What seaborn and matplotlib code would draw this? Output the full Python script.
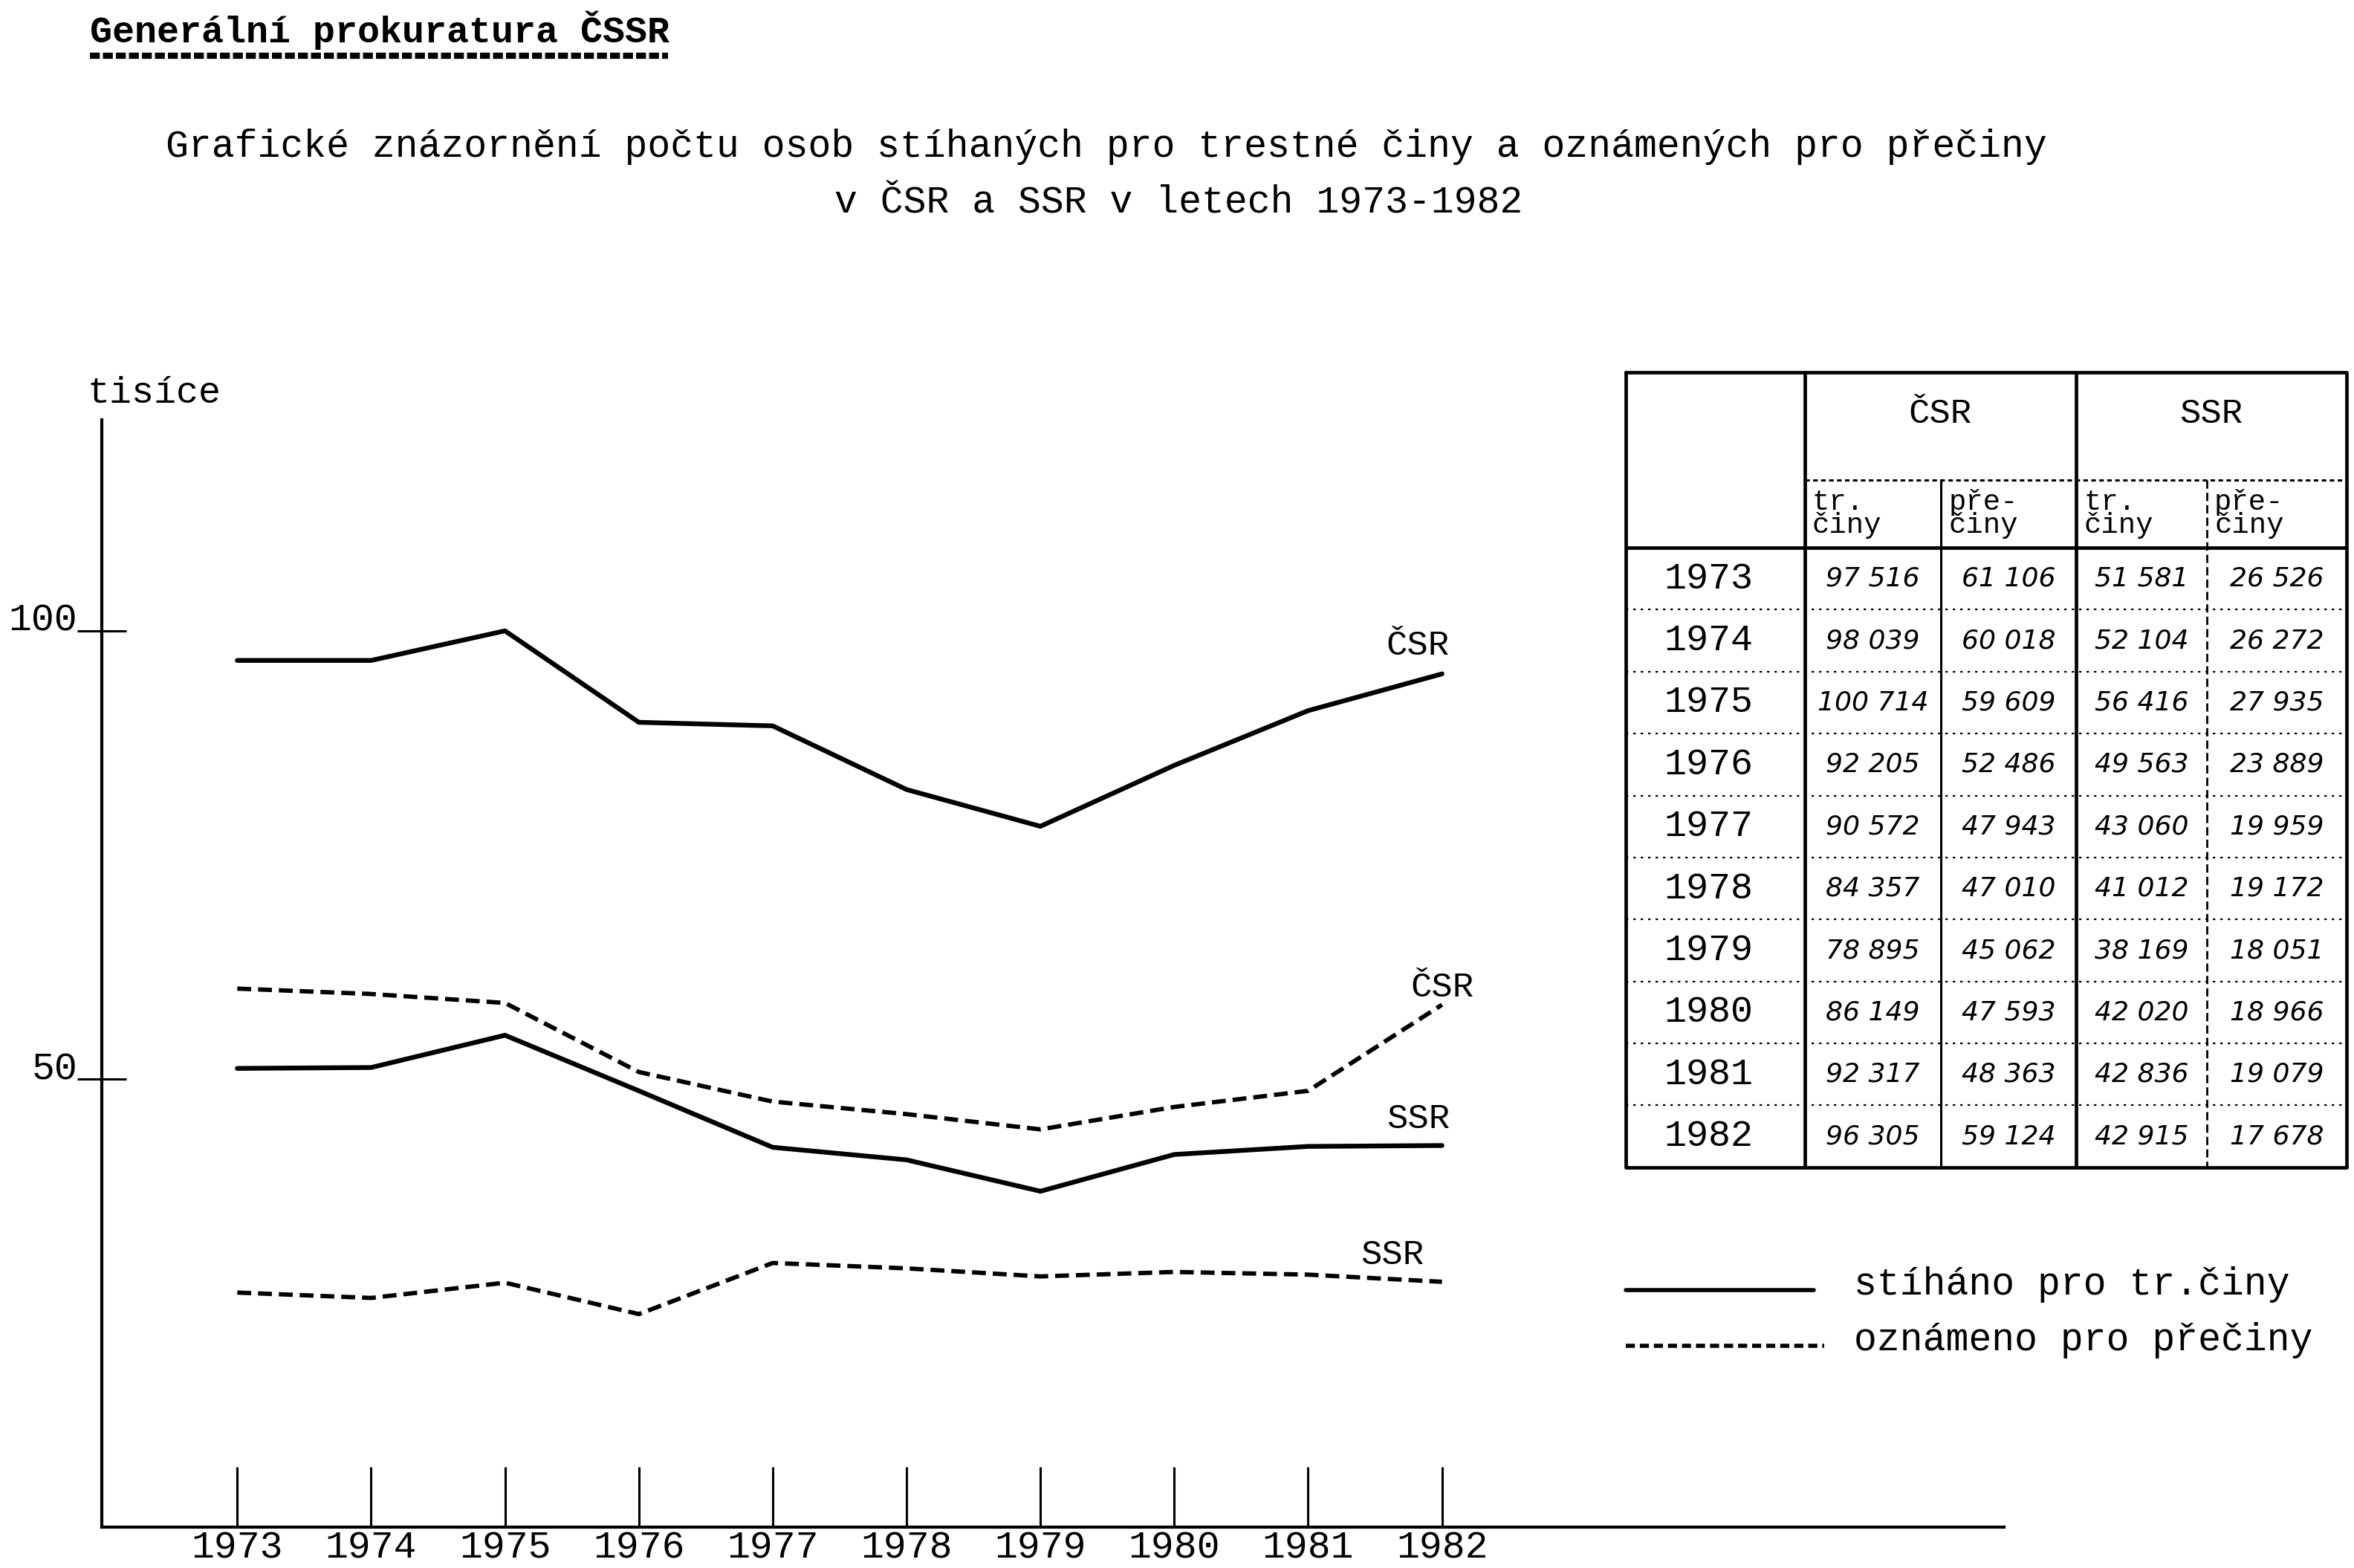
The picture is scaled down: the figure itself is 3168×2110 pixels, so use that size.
import pandas as pd
import matplotlib.pyplot as plt
import seaborn as sns
from matplotlib.lines import Line2D

# data

years = [1973, 1974, 1975, 1976, 1977, 1978, 1979, 1980, 1981, 1982]

# values as drawn in the graph (tisíce)
csr_tr_plot = [96.7, 96.7, 100.0, 89.8, 89.4, 82.3, 78.2, 85.0, 91.1, 95.2]
csr_pr_plot = [60.1, 59.5, 58.5, 50.8, 47.5, 46.1, 44.4, 46.9, 48.7, 58.3]
ssr_tr_plot = [51.2, 51.3, 54.9, 48.7, 42.4, 41.0, 37.5, 41.6, 42.5, 42.6]
ssr_pr_plot = [26.2, 25.6, 27.3, 23.8, 29.5, 28.9, 28.0, 28.5, 28.2, 27.4]

# values in the table
csr_tr = [97516, 98039, 100714, 92205, 90572, 84357, 78895, 86149, 92317, 96305]
csr_pr = [61106, 60018, 59609, 52486, 47943, 47010, 45062, 47593, 48363, 59124]
ssr_tr = [51581, 52104, 56416, 49563, 43060, 41012, 38169, 42020, 42836, 42915]
ssr_pr = [26526, 26272, 27935, 23889, 19959, 19172, 18051, 18966, 19079, 17678]

y_ticks = [50, 100]
line_labels = ['ČSR', 'ČSR', 'SSR', 'SSR']

# style

sns.set_style('white')
plt.rcParams['font.family'] = ['Liberation Mono', 'DejaVu Sans Mono']
plt.rcParams['text.color'] = 'black'

W, H = 1568, 1045  # layout grid of the page


def fx(x):
    return x / W


def fy(y):
    return 1 - y / H


fig = plt.figure(figsize=(31.68, 21.10), dpi=100)
fig.patch.set_facecolor('white')

# main graph

ax = fig.add_axes([fx(68), fy(1018), fx(1335 - 68), (1018 - 280) / H])

df = pd.DataFrame({'rok': years, 'csr_tr': csr_tr_plot, 'csr_pr': csr_pr_plot,
                   'ssr_tr': ssr_tr_plot, 'ssr_pr': ssr_pr_plot})

dash = (0, (3.2, 1.6))
sns.lineplot(data=df, x='rok', y='csr_tr', color='black', lw=4.6, ax=ax)
sns.lineplot(data=df, x='rok', y='csr_pr', color='black', lw=4.2, linestyle=dash, ax=ax)
sns.lineplot(data=df, x='rok', y='ssr_tr', color='black', lw=4.6, ax=ax)
sns.lineplot(data=df, x='rok', y='ssr_pr', color='black', lw=4.2, linestyle=dash, ax=ax)

# labels at the line ends
ax.text(years[-1] - 0.18, csr_tr_plot[-1] + 3.1, line_labels[0], fontsize=34, ha='center', va='center')
ax.text(years[-1], csr_pr_plot[-1] + 1.9, line_labels[1], fontsize=34, ha='center', va='center')
ax.text(years[-1] - 0.18, ssr_tr_plot[-1] + 2.9, line_labels[2], fontsize=34, ha='center', va='center')
ax.text(years[-1] - 0.37, ssr_pr_plot[-1] + 3.0, line_labels[3], fontsize=34, ha='center', va='center')

ax.set_xlim(1971.99, 1986.2)
ax.set_ylim(0, 123.5)
ax.set_xticks(years)
ax.set_xticklabels([str(y) for y in years])
ax.set_yticks(y_ticks)
ax.set_xlabel('')
ax.set_ylabel('')
ax.set_facecolor('none')
for s in ['top', 'right']:
    ax.spines[s].set_visible(False)
for s in ['left', 'bottom']:
    ax.spines[s].set_linewidth(3)
    ax.spines[s].set_color('black')
ax.tick_params(axis='x', bottom=True, direction='in', length=58, width=2.2, pad=2,
               labelsize=37, colors='black')
ax.tick_params(axis='y', left=True, direction='inout', length=48, width=2.2, pad=0,
               labelsize=37, colors='black')
for t in ax.get_yticklabels():
    t.set_va('baseline')

fig.text(fx(58), fy(262), 'tisíce', fontsize=36, ha='left', va='center')

# header and title

fig.text(fx(60), fy(20), 'Generální prokuratura ČSSR', fontsize=36, fontweight='bold',
         ha='left', va='center')
fig.add_artist(Line2D([fx(60), fx(445)], [fy(37), fy(37)], color='black', lw=6,
                      linestyle=(0, (1.6, 0.5))))
fig.text(fx(737), fy(98),
         'Grafické znázornění počtu osob stíhaných pro trestné činy a oznámených pro přečiny',
         fontsize=37, ha='center', va='center')
fig.text(fx(785), fy(135), 'v ČSR a SSR v letech 1973-1982', fontsize=37, ha='center', va='center')

# table

tx = fig.add_axes([fx(1083), fy(778), fx(480), 530 / H])
tx.set_xlim(0, 480)
tx.set_ylim(530, 0)
tx.axis('off')

col_edges = [0, 119, 210, 300, 387, 480]
head1, head2 = 72, 117
row_h = (530 - head2) / len(years)

# border and column lines
tx.plot([0, 480, 480, 0, 0], [0, 0, 530, 530, 0], color='black', lw=3.4, clip_on=False)
tx.plot([119, 119], [0, 530], color='black', lw=3.4)
tx.plot([300, 300], [0, 530], color='black', lw=3.4)
tx.plot([210, 210], [head1, 530], color='black', lw=2.2)
tx.plot([387, 387], [head1, 530], color='black', lw=2.0, linestyle=(0, (4, 2)))
tx.plot([119, 480], [head1, head1], color='black', lw=2.2, linestyle=(0, (2, 1.5)))
tx.plot([0, 480], [head2, head2], color='black', lw=3.4)
for i in range(1, len(years)):
    yy = head2 + i * row_h
    tx.plot([0, 480], [yy, yy], color='black', lw=1.6, linestyle=(0, (1.5, 3)))

tx.text((119 + 300) / 2, 28, 'ČSR', fontsize=34, ha='center', va='center')
tx.text((300 + 480) / 2, 28, 'SSR', fontsize=34, ha='center', va='center')
for c in range(4):
    sub = 'tr.\nčiny' if c % 2 == 0 else 'pře-\nčiny'
    tx.text(col_edges[c + 1] + 5, (head1 + head2) / 2, sub, fontsize=28,
            ha='left', va='center', linespacing=0.85)

columns = [csr_tr, csr_pr, ssr_tr, ssr_pr]
for i, yr in enumerate(years):
    yc = head2 + (i + 0.5) * row_h
    tx.text(55, yc, str(yr), fontsize=36, ha='center', va='center')
    for c, vals in enumerate(columns):
        xc = (col_edges[c + 1] + col_edges[c + 2]) / 2
        txt = f'{vals[i]:,}'.replace(',', ' ')
        tx.text(xc, yc, txt, fontsize=26, style='italic', ha='center', va='center',
                family='DejaVu Sans')

# legend

fig.add_artist(Line2D([fx(1083), fx(1208)], [fy(860), fy(860)], color='black', lw=4))
fig.text(fx(1235), fy(856), 'stíháno pro tr.činy', fontsize=37, ha='left', va='center')
fig.add_artist(Line2D([fx(1083), fx(1215)], [fy(897), fy(897)], color='black', lw=4,
                      linestyle=(0, (2.2, 1.2))))
fig.text(fx(1235), fy(893), 'oznámeno pro přečiny', fontsize=37, ha='left', va='center')

plt.savefig('out.png', dpi=100, facecolor='white')
